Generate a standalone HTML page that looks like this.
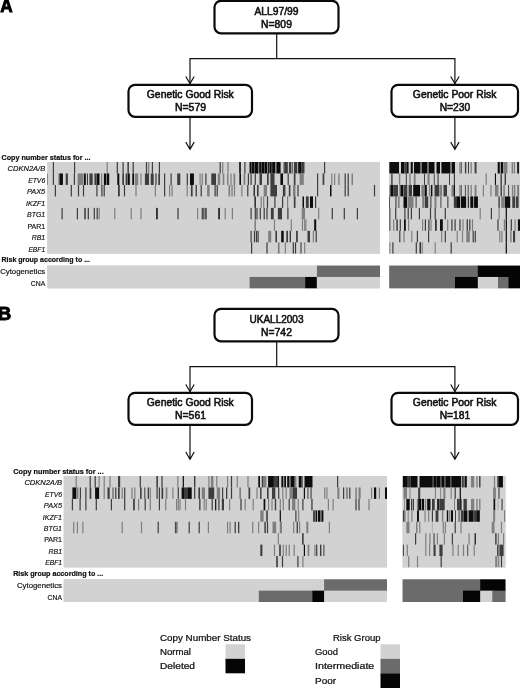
<!DOCTYPE html>
<html lang="en"><head><meta charset="utf-8"><title>Figure</title>
<style>html,body{margin:0;padding:0;background:#fff}svg{display:block}text{font-family:"Liberation Sans",sans-serif;fill:#111}.bx{fill:#fff;stroke:#0a0a0a;stroke-width:2.2}.ln{fill:none;stroke:#111;stroke-width:1.2}.t10{font-size:10.2px;stroke:#111;stroke-width:.55px}.lab{font-size:7.5px;stroke:#111;stroke-width:.18px}.it{font-style:italic}.hd{font-size:7.4px;font-weight:bold;stroke:#111;stroke-width:.22px}.lg{font-size:8.4px;stroke:#111;stroke-width:.22px}.pn{font-size:18px;font-weight:bold;stroke:#000;stroke-width:.9px;fill:#000}</style></head><body>
<svg width="520" height="688" viewBox="0 0 520 688">
<rect width="520" height="688" fill="#fff"/>
<defs><filter id="hb" x="-1%" y="0" width="102%" height="100%"><feGaussianBlur stdDeviation="0.45 0"/></filter></defs>
<path class="ln" d="M276.7 33.5V58.7M190 84V58.7H454.9V84"/>
<path class="ln" d="M185.8 76.5L190 83.6L194.2 76.5"/>
<path class="ln" d="M190 117V149.3M185.8 142.10000000000002L190 149.3L194.2 142.10000000000002"/>
<path class="ln" d="M450.7 76.5L454.9 83.6L459.09999999999997 76.5"/>
<path class="ln" d="M454.9 117V149.3M450.7 142.10000000000002L454.9 149.3L459.09999999999997 142.10000000000002"/>
<rect class="bx" x="214.5" y="0.8" width="124" height="32.5" rx="6.5"/>
<rect class="bx" x="128.5" y="84.8" width="123.5" height="32" rx="6.5"/>
<rect class="bx" x="391.5" y="84.8" width="126.5" height="32" rx="6.5"/>
<text x="276.5" y="14.6" class="t10" text-anchor="middle" textLength="44" lengthAdjust="spacingAndGlyphs">ALL97/99</text>
<text x="276.5" y="28.1" class="t10" text-anchor="middle" textLength="30.8" lengthAdjust="spacingAndGlyphs">N=809</text>
<text x="190.3" y="98.1" class="t10" text-anchor="middle" textLength="87" lengthAdjust="spacingAndGlyphs">Genetic Good Risk</text>
<text x="190.5" y="111.4" class="t10" text-anchor="middle" textLength="31" lengthAdjust="spacingAndGlyphs">N=579</text>
<text x="454.6" y="98.1" class="t10" text-anchor="middle" textLength="83.5" lengthAdjust="spacingAndGlyphs">Genetic Poor Risk</text>
<text x="455" y="111.4" class="t10" text-anchor="middle" textLength="30.6" lengthAdjust="spacingAndGlyphs">N=230</text>
<path class="ln" d="M276.7 341.5V366.7M190 392V366.7H454.9V392"/>
<path class="ln" d="M185.8 384.5L190 391.6L194.2 384.5"/>
<path class="ln" d="M190 425V459.2M185.8 452.0L190 459.2L194.2 452.0"/>
<path class="ln" d="M450.7 384.5L454.9 391.6L459.09999999999997 384.5"/>
<path class="ln" d="M454.9 425V459.2M450.7 452.0L454.9 459.2L459.09999999999997 452.0"/>
<rect class="bx" x="214.5" y="308.8" width="124" height="32.5" rx="6.5"/>
<rect class="bx" x="128.5" y="392.8" width="123.5" height="32" rx="6.5"/>
<rect class="bx" x="391.5" y="392.8" width="126.5" height="32" rx="6.5"/>
<text x="276.5" y="322.6" class="t10" text-anchor="middle" textLength="54" lengthAdjust="spacingAndGlyphs">UKALL2003</text>
<text x="276.5" y="336.1" class="t10" text-anchor="middle" textLength="30.8" lengthAdjust="spacingAndGlyphs">N=742</text>
<text x="190.3" y="406.1" class="t10" text-anchor="middle" textLength="87" lengthAdjust="spacingAndGlyphs">Genetic Good Risk</text>
<text x="190.5" y="419.4" class="t10" text-anchor="middle" textLength="31" lengthAdjust="spacingAndGlyphs">N=561</text>
<text x="454.6" y="406.1" class="t10" text-anchor="middle" textLength="83.5" lengthAdjust="spacingAndGlyphs">Genetic Poor Risk</text>
<text x="455" y="419.4" class="t10" text-anchor="middle" textLength="30.6" lengthAdjust="spacingAndGlyphs">N=181</text>
<text x="0.3" y="12.3" class="pn" textLength="12.4" lengthAdjust="spacingAndGlyphs">A</text>
<text x="-2.0" y="320.3" class="pn" textLength="13.2" lengthAdjust="spacingAndGlyphs">B</text>
<rect x="47.3" y="162" width="332.7" height="91.76" fill="#d2d2d2"/>
<clipPath id="c47_162"><rect x="47.3" y="162" width="332.7" height="91.76"/></clipPath>
<g clip-path="url(#c47_162)"><g filter="url(#hb)">
<rect x="44.3" y="162" width="338.7" height="91.76" fill="#d2d2d2"/>
<rect x="52.8" y="162.00" width="1.2" height="11.47" fill="#3c3c3c"/>
<rect x="74.0" y="162.00" width="1.2" height="11.47" fill="#3c3c3c"/>
<rect x="106.6" y="162.00" width="1.2" height="11.47" fill="#7f7f7f"/>
<rect x="116.7" y="162.00" width="1.2" height="11.47" fill="#3c3c3c"/>
<rect x="122.5" y="162.00" width="1.2" height="11.47" fill="#3c3c3c"/>
<rect x="127.4" y="162.00" width="1.5" height="11.47" fill="#3c3c3c"/>
<rect x="132.6" y="162.00" width="1.2" height="11.47" fill="#3c3c3c"/>
<rect x="145.9" y="162.00" width="1.2" height="11.47" fill="#3c3c3c"/>
<rect x="148.1" y="162.00" width="1.2" height="11.47" fill="#7f7f7f"/>
<rect x="151.8" y="162.00" width="1.2" height="11.47" fill="#3c3c3c"/>
<rect x="158.8" y="162.00" width="1.2" height="11.47" fill="#3c3c3c"/>
<rect x="219.6" y="162.00" width="1.2" height="11.47" fill="#3c3c3c"/>
<rect x="222.1" y="162.00" width="1.2" height="11.47" fill="#7f7f7f"/>
<rect x="227.4" y="162.00" width="1.2" height="11.47" fill="#7f7f7f"/>
<rect x="239.2" y="162.00" width="1.6" height="11.47" fill="#0c0c0c"/>
<rect x="244.3" y="162.00" width="1.2" height="11.47" fill="#3c3c3c"/>
<rect x="249.5" y="162.00" width="1.9" height="11.47" fill="#0c0c0c"/>
<rect x="251.4" y="162.00" width="0.5" height="11.47" fill="#3c3c3c"/>
<rect x="251.9" y="162.00" width="2.5" height="11.47" fill="#0c0c0c"/>
<rect x="254.4" y="162.00" width="0.5" height="11.47" fill="#3c3c3c"/>
<rect x="254.9" y="162.00" width="3.5" height="11.47" fill="#0c0c0c"/>
<rect x="258.4" y="162.00" width="0.8" height="11.47" fill="#7f7f7f"/>
<rect x="259.2" y="162.00" width="1.9" height="11.47" fill="#0c0c0c"/>
<rect x="261.1" y="162.00" width="0.5" height="11.47" fill="#3c3c3c"/>
<rect x="261.6" y="162.00" width="2.5" height="11.47" fill="#0c0c0c"/>
<rect x="264.1" y="162.00" width="0.5" height="11.47" fill="#3c3c3c"/>
<rect x="264.6" y="162.00" width="2.7" height="11.47" fill="#0c0c0c"/>
<rect x="267.3" y="162.00" width="0.8" height="11.47" fill="#7f7f7f"/>
<rect x="268.1" y="162.00" width="1.1" height="11.47" fill="#0c0c0c"/>
<rect x="269.2" y="162.00" width="0.5" height="11.47" fill="#3c3c3c"/>
<rect x="269.7" y="162.00" width="2.0" height="11.47" fill="#0c0c0c"/>
<rect x="271.7" y="162.00" width="0.5" height="11.47" fill="#3c3c3c"/>
<rect x="272.2" y="162.00" width="3.1" height="11.47" fill="#0c0c0c"/>
<rect x="275.3" y="162.00" width="1.2" height="11.47" fill="#7f7f7f"/>
<rect x="276.5" y="162.00" width="4.1" height="11.47" fill="#0c0c0c"/>
<rect x="283.2" y="162.00" width="1.0" height="11.47" fill="#7f7f7f"/>
<rect x="284.2" y="162.00" width="3.6" height="11.47" fill="#3c3c3c"/>
<rect x="288.9" y="162.00" width="2.5" height="11.47" fill="#3c3c3c"/>
<rect x="292.3" y="162.00" width="0.8" height="11.47" fill="#3c3c3c"/>
<rect x="294.0" y="162.00" width="3.3" height="11.47" fill="#3c3c3c"/>
<rect x="298.2" y="162.00" width="3.4" height="11.47" fill="#0c0c0c"/>
<rect x="301.6" y="162.00" width="2.9" height="11.47" fill="#3c3c3c"/>
<rect x="324.0" y="162.00" width="1.2" height="11.47" fill="#3c3c3c"/>
<rect x="47.3" y="173.47" width="0.7" height="11.47" fill="#3c3c3c"/>
<rect x="52.8" y="173.47" width="1.2" height="11.47" fill="#3c3c3c"/>
<rect x="58.4" y="173.47" width="1.1" height="11.47" fill="#7f7f7f"/>
<rect x="59.5" y="173.47" width="3.4" height="11.47" fill="#0c0c0c"/>
<rect x="65.7" y="173.47" width="2.2" height="11.47" fill="#3c3c3c"/>
<rect x="73.8" y="173.47" width="1.2" height="11.47" fill="#3c3c3c"/>
<rect x="77.6" y="173.47" width="5.4" height="11.47" fill="#7f7f7f"/>
<rect x="83.8" y="173.47" width="2.0" height="11.47" fill="#0c0c0c"/>
<rect x="86.9" y="173.47" width="1.1" height="11.47" fill="#3c3c3c"/>
<rect x="89.4" y="173.47" width="3.3" height="11.47" fill="#3c3c3c"/>
<rect x="94.4" y="173.47" width="1.9" height="11.47" fill="#3c3c3c"/>
<rect x="96.6" y="173.47" width="2.9" height="11.47" fill="#0c0c0c"/>
<rect x="101.0" y="173.47" width="1.2" height="11.47" fill="#7f7f7f"/>
<rect x="103.9" y="173.47" width="2.1" height="11.47" fill="#0c0c0c"/>
<rect x="106.0" y="173.47" width="1.0" height="11.47" fill="#7f7f7f"/>
<rect x="107.0" y="173.47" width="2.2" height="11.47" fill="#0c0c0c"/>
<rect x="117.3" y="173.47" width="2.0" height="11.47" fill="#0c0c0c"/>
<rect x="122.3" y="173.47" width="1.7" height="11.47" fill="#3c3c3c"/>
<rect x="125.6" y="173.47" width="1.4" height="11.47" fill="#3c3c3c"/>
<rect x="127.5" y="173.47" width="2.3" height="11.47" fill="#0c0c0c"/>
<rect x="132.3" y="173.47" width="1.7" height="11.47" fill="#0c0c0c"/>
<rect x="134.8" y="173.47" width="3.4" height="11.47" fill="#7f7f7f"/>
<rect x="140.4" y="173.47" width="1.2" height="11.47" fill="#7f7f7f"/>
<rect x="144.9" y="173.47" width="4.1" height="11.47" fill="#3c3c3c"/>
<rect x="150.7" y="173.47" width="3.0" height="11.47" fill="#3c3c3c"/>
<rect x="155.4" y="173.47" width="1.2" height="11.47" fill="#3c3c3c"/>
<rect x="158.3" y="173.47" width="1.7" height="11.47" fill="#3c3c3c"/>
<rect x="164.0" y="173.47" width="1.2" height="11.47" fill="#3c3c3c"/>
<rect x="170.5" y="173.47" width="1.2" height="11.47" fill="#3c3c3c"/>
<rect x="177.2" y="173.47" width="3.1" height="11.47" fill="#3c3c3c"/>
<rect x="186.7" y="173.47" width="1.2" height="11.47" fill="#3c3c3c"/>
<rect x="190.0" y="173.47" width="3.9" height="11.47" fill="#0c0c0c"/>
<rect x="199.5" y="173.47" width="1.2" height="11.47" fill="#7f7f7f"/>
<rect x="201.7" y="173.47" width="1.2" height="11.47" fill="#7f7f7f"/>
<rect x="205.3" y="173.47" width="1.2" height="11.47" fill="#3c3c3c"/>
<rect x="211.3" y="173.47" width="4.7" height="11.47" fill="#3c3c3c"/>
<rect x="217.7" y="173.47" width="2.5" height="11.47" fill="#7f7f7f"/>
<rect x="222.7" y="173.47" width="1.6" height="11.47" fill="#7f7f7f"/>
<rect x="227.0" y="173.47" width="1.5" height="11.47" fill="#7f7f7f"/>
<rect x="230.4" y="173.47" width="1.2" height="11.47" fill="#7f7f7f"/>
<rect x="233.5" y="173.47" width="1.7" height="11.47" fill="#7f7f7f"/>
<rect x="239.4" y="173.47" width="1.6" height="11.47" fill="#0c0c0c"/>
<rect x="243.6" y="173.47" width="1.7" height="11.47" fill="#7f7f7f"/>
<rect x="247.8" y="173.47" width="1.2" height="11.47" fill="#3c3c3c"/>
<rect x="250.5" y="173.47" width="1.2" height="11.47" fill="#3c3c3c"/>
<rect x="254.7" y="173.47" width="1.2" height="11.47" fill="#3c3c3c"/>
<rect x="259.5" y="173.47" width="2.5" height="11.47" fill="#3c3c3c"/>
<rect x="267.0" y="173.47" width="1.7" height="11.47" fill="#3c3c3c"/>
<rect x="270.4" y="173.47" width="4.1" height="11.47" fill="#3c3c3c"/>
<rect x="280.4" y="173.47" width="2.6" height="11.47" fill="#0c0c0c"/>
<rect x="287.6" y="173.47" width="1.2" height="11.47" fill="#3c3c3c"/>
<rect x="293.8" y="173.47" width="1.7" height="11.47" fill="#3c3c3c"/>
<rect x="299.6" y="173.47" width="4.2" height="11.47" fill="#7f7f7f"/>
<rect x="317.0" y="173.47" width="1.2" height="11.47" fill="#3c3c3c"/>
<rect x="322.6" y="173.47" width="1.7" height="11.47" fill="#3c3c3c"/>
<rect x="331.2" y="173.47" width="1.2" height="11.47" fill="#7f7f7f"/>
<rect x="334.0" y="173.47" width="1.2" height="11.47" fill="#7f7f7f"/>
<rect x="338.2" y="173.47" width="1.4" height="11.47" fill="#7f7f7f"/>
<rect x="344.6" y="173.47" width="1.2" height="11.47" fill="#3c3c3c"/>
<rect x="347.6" y="173.47" width="1.2" height="11.47" fill="#3c3c3c"/>
<rect x="351.5" y="173.47" width="1.5" height="11.47" fill="#7f7f7f"/>
<rect x="54.8" y="184.94" width="1.2" height="11.47" fill="#3c3c3c"/>
<rect x="70.7" y="184.94" width="1.2" height="11.47" fill="#3c3c3c"/>
<rect x="77.9" y="184.94" width="1.2" height="11.47" fill="#3c3c3c"/>
<rect x="82.9" y="184.94" width="1.2" height="11.47" fill="#3c3c3c"/>
<rect x="96.3" y="184.94" width="1.2" height="11.47" fill="#3c3c3c"/>
<rect x="101.3" y="184.94" width="1.2" height="11.47" fill="#3c3c3c"/>
<rect x="103.6" y="184.94" width="1.2" height="11.47" fill="#3c3c3c"/>
<rect x="118.0" y="184.94" width="1.8" height="11.47" fill="#3c3c3c"/>
<rect x="123.9" y="184.94" width="1.2" height="11.47" fill="#3c3c3c"/>
<rect x="135.4" y="184.94" width="1.2" height="11.47" fill="#7f7f7f"/>
<rect x="154.8" y="184.94" width="1.2" height="11.47" fill="#7f7f7f"/>
<rect x="164.0" y="184.94" width="1.2" height="11.47" fill="#3c3c3c"/>
<rect x="169.0" y="184.94" width="1.2" height="11.47" fill="#7f7f7f"/>
<rect x="171.5" y="184.94" width="1.2" height="11.47" fill="#7f7f7f"/>
<rect x="186.6" y="184.94" width="1.2" height="11.47" fill="#7f7f7f"/>
<rect x="190.9" y="184.94" width="1.7" height="11.47" fill="#3c3c3c"/>
<rect x="195.6" y="184.94" width="1.3" height="11.47" fill="#3c3c3c"/>
<rect x="200.6" y="184.94" width="1.2" height="11.47" fill="#3c3c3c"/>
<rect x="207.1" y="184.94" width="2.5" height="11.47" fill="#7f7f7f"/>
<rect x="214.5" y="184.94" width="1.2" height="11.47" fill="#3c3c3c"/>
<rect x="216.6" y="184.94" width="1.2" height="11.47" fill="#3c3c3c"/>
<rect x="228.5" y="184.94" width="1.7" height="11.47" fill="#7f7f7f"/>
<rect x="231.4" y="184.94" width="1.3" height="11.47" fill="#7f7f7f"/>
<rect x="233.9" y="184.94" width="1.2" height="11.47" fill="#7f7f7f"/>
<rect x="241.3" y="184.94" width="1.2" height="11.47" fill="#7f7f7f"/>
<rect x="247.2" y="184.94" width="1.2" height="11.47" fill="#3c3c3c"/>
<rect x="253.6" y="184.94" width="1.2" height="11.47" fill="#0c0c0c"/>
<rect x="257.0" y="184.94" width="1.6" height="11.47" fill="#3c3c3c"/>
<rect x="263.7" y="184.94" width="3.3" height="11.47" fill="#7f7f7f"/>
<rect x="270.4" y="184.94" width="6.6" height="11.47" fill="#3c3c3c"/>
<rect x="282.9" y="184.94" width="2.5" height="11.47" fill="#3c3c3c"/>
<rect x="288.8" y="184.94" width="1.6" height="11.47" fill="#3c3c3c"/>
<rect x="293.0" y="184.94" width="2.5" height="11.47" fill="#7f7f7f"/>
<rect x="297.4" y="184.94" width="1.2" height="11.47" fill="#3c3c3c"/>
<rect x="317.0" y="184.94" width="1.2" height="11.47" fill="#3c3c3c"/>
<rect x="330.0" y="184.94" width="1.5" height="11.47" fill="#0c0c0c"/>
<rect x="344.6" y="184.94" width="1.2" height="11.47" fill="#3c3c3c"/>
<rect x="347.6" y="184.94" width="1.2" height="11.47" fill="#3c3c3c"/>
<rect x="373.9" y="184.94" width="1.2" height="11.47" fill="#3c3c3c"/>
<rect x="254.5" y="196.41" width="1.3" height="11.47" fill="#0c0c0c"/>
<rect x="260.6" y="196.41" width="1.2" height="11.47" fill="#7f7f7f"/>
<rect x="263.1" y="196.41" width="1.2" height="11.47" fill="#7f7f7f"/>
<rect x="266.9" y="196.41" width="1.2" height="11.47" fill="#3c3c3c"/>
<rect x="274.3" y="196.41" width="1.2" height="11.47" fill="#3c3c3c"/>
<rect x="282.0" y="196.41" width="1.2" height="11.47" fill="#3c3c3c"/>
<rect x="287.0" y="196.41" width="1.2" height="11.47" fill="#7f7f7f"/>
<rect x="293.8" y="196.41" width="1.7" height="11.47" fill="#3c3c3c"/>
<rect x="302.5" y="196.41" width="1.5" height="11.47" fill="#0c0c0c"/>
<rect x="305.9" y="196.41" width="2.8" height="11.47" fill="#3c3c3c"/>
<rect x="310.0" y="196.41" width="3.0" height="11.47" fill="#0c0c0c"/>
<rect x="315.0" y="196.41" width="1.2" height="11.47" fill="#3c3c3c"/>
<rect x="61.5" y="207.88" width="1.2" height="11.47" fill="#3c3c3c"/>
<rect x="76.8" y="207.88" width="1.2" height="11.47" fill="#3c3c3c"/>
<rect x="84.3" y="207.88" width="1.5" height="11.47" fill="#3c3c3c"/>
<rect x="87.7" y="207.88" width="1.2" height="11.47" fill="#3c3c3c"/>
<rect x="93.7" y="207.88" width="1.2" height="11.47" fill="#3c3c3c"/>
<rect x="96.6" y="207.88" width="1.2" height="11.47" fill="#3c3c3c"/>
<rect x="98.6" y="207.88" width="1.2" height="11.47" fill="#7f7f7f"/>
<rect x="114.2" y="207.88" width="1.2" height="11.47" fill="#7f7f7f"/>
<rect x="130.6" y="207.88" width="1.2" height="11.47" fill="#7f7f7f"/>
<rect x="140.4" y="207.88" width="1.2" height="11.47" fill="#7f7f7f"/>
<rect x="156.2" y="207.88" width="1.5" height="11.47" fill="#0c0c0c"/>
<rect x="177.4" y="207.88" width="1.2" height="11.47" fill="#3c3c3c"/>
<rect x="197.0" y="207.88" width="1.2" height="11.47" fill="#7f7f7f"/>
<rect x="201.7" y="207.88" width="1.2" height="11.47" fill="#3c3c3c"/>
<rect x="203.3" y="207.88" width="1.2" height="11.47" fill="#3c3c3c"/>
<rect x="205.2" y="207.88" width="1.5" height="11.47" fill="#3c3c3c"/>
<rect x="218.3" y="207.88" width="1.5" height="11.47" fill="#0c0c0c"/>
<rect x="224.6" y="207.88" width="1.2" height="11.47" fill="#7f7f7f"/>
<rect x="231.8" y="207.88" width="1.2" height="11.47" fill="#7f7f7f"/>
<rect x="250.5" y="207.88" width="1.2" height="11.47" fill="#3c3c3c"/>
<rect x="254.7" y="207.88" width="1.2" height="11.47" fill="#3c3c3c"/>
<rect x="256.4" y="207.88" width="1.2" height="11.47" fill="#3c3c3c"/>
<rect x="259.7" y="207.88" width="1.2" height="11.47" fill="#3c3c3c"/>
<rect x="263.6" y="207.88" width="1.2" height="11.47" fill="#3c3c3c"/>
<rect x="266.4" y="207.88" width="1.2" height="11.47" fill="#3c3c3c"/>
<rect x="270.9" y="207.88" width="2.8" height="11.47" fill="#3c3c3c"/>
<rect x="277.9" y="207.88" width="4.1" height="11.47" fill="#3c3c3c"/>
<rect x="287.3" y="207.88" width="1.2" height="11.47" fill="#3c3c3c"/>
<rect x="301.7" y="207.88" width="3.3" height="11.47" fill="#7f7f7f"/>
<rect x="318.1" y="207.88" width="1.2" height="11.47" fill="#7f7f7f"/>
<rect x="331.7" y="207.88" width="1.2" height="11.47" fill="#3c3c3c"/>
<rect x="343.7" y="207.88" width="1.2" height="11.47" fill="#3c3c3c"/>
<rect x="356.8" y="207.88" width="1.2" height="11.47" fill="#3c3c3c"/>
<rect x="254.5" y="219.35" width="1.5" height="11.47" fill="#7f7f7f"/>
<rect x="273.9" y="219.35" width="1.2" height="11.47" fill="#7f7f7f"/>
<rect x="290.7" y="219.35" width="1.2" height="11.47" fill="#7f7f7f"/>
<rect x="301.9" y="219.35" width="1.2" height="11.47" fill="#7f7f7f"/>
<rect x="304.1" y="219.35" width="1.2" height="11.47" fill="#7f7f7f"/>
<rect x="305.3" y="219.35" width="1.2" height="11.47" fill="#7f7f7f"/>
<rect x="314.2" y="219.35" width="2.0" height="11.47" fill="#0c0c0c"/>
<rect x="250.5" y="230.82" width="1.2" height="11.47" fill="#3c3c3c"/>
<rect x="253.9" y="230.82" width="1.2" height="11.47" fill="#3c3c3c"/>
<rect x="255.9" y="230.82" width="1.2" height="11.47" fill="#3c3c3c"/>
<rect x="257.5" y="230.82" width="1.2" height="11.47" fill="#3c3c3c"/>
<rect x="268.2" y="230.82" width="3.0" height="11.47" fill="#7f7f7f"/>
<rect x="275.4" y="230.82" width="1.6" height="11.47" fill="#3c3c3c"/>
<rect x="281.2" y="230.82" width="2.5" height="11.47" fill="#0c0c0c"/>
<rect x="286.3" y="230.82" width="1.7" height="11.47" fill="#3c3c3c"/>
<rect x="289.6" y="230.82" width="1.4" height="11.47" fill="#3c3c3c"/>
<rect x="296.3" y="230.82" width="1.3" height="11.47" fill="#0c0c0c"/>
<rect x="307.5" y="230.82" width="2.5" height="11.47" fill="#3c3c3c"/>
<rect x="312.8" y="230.82" width="1.2" height="11.47" fill="#7f7f7f"/>
<rect x="315.6" y="230.82" width="1.2" height="11.47" fill="#3c3c3c"/>
<rect x="251.0" y="242.29" width="1.2" height="11.47" fill="#3c3c3c"/>
<rect x="266.4" y="242.29" width="1.2" height="11.47" fill="#3c3c3c"/>
<rect x="277.9" y="242.29" width="1.7" height="11.47" fill="#7f7f7f"/>
<rect x="284.8" y="242.29" width="1.2" height="11.47" fill="#7f7f7f"/>
<rect x="292.7" y="242.29" width="1.2" height="11.47" fill="#3c3c3c"/>
<rect x="294.9" y="242.29" width="1.2" height="11.47" fill="#3c3c3c"/>
<rect x="300.0" y="242.29" width="2.0" height="11.47" fill="#7f7f7f"/>
<rect x="304.1" y="242.29" width="1.2" height="11.47" fill="#7f7f7f"/>
</g></g>
<rect x="389.2" y="162" width="130.8" height="91.76" fill="#d2d2d2"/>
<clipPath id="c389_162"><rect x="389.2" y="162" width="130.8" height="91.76"/></clipPath>
<g clip-path="url(#c389_162)"><g filter="url(#hb)">
<rect x="386.2" y="162" width="136.8" height="91.76" fill="#d2d2d2"/>
<rect x="389.2" y="162.00" width="9.8" height="11.47" fill="#0c0c0c"/>
<rect x="401.0" y="162.00" width="3.5" height="11.47" fill="#0c0c0c"/>
<rect x="404.5" y="162.00" width="2.0" height="11.47" fill="#3c3c3c"/>
<rect x="406.5" y="162.00" width="2.1" height="11.47" fill="#0c0c0c"/>
<rect x="410.7" y="162.00" width="2.1" height="11.47" fill="#0c0c0c"/>
<rect x="414.0" y="162.00" width="6.5" height="11.47" fill="#0c0c0c"/>
<rect x="421.5" y="162.00" width="6.0" height="11.47" fill="#0c0c0c"/>
<rect x="428.5" y="162.00" width="6.0" height="11.47" fill="#0c0c0c"/>
<rect x="436.5" y="162.00" width="3.5" height="11.47" fill="#0c0c0c"/>
<rect x="441.4" y="162.00" width="9.1" height="11.47" fill="#0c0c0c"/>
<rect x="451.5" y="162.00" width="3.5" height="11.47" fill="#0c0c0c"/>
<rect x="459.3" y="162.00" width="1.0" height="11.47" fill="#7f7f7f"/>
<rect x="460.7" y="162.00" width="1.0" height="11.47" fill="#3c3c3c"/>
<rect x="464.9" y="162.00" width="1.4" height="11.47" fill="#3c3c3c"/>
<rect x="468.0" y="162.00" width="1.0" height="11.47" fill="#3c3c3c"/>
<rect x="470.5" y="162.00" width="1.3" height="11.47" fill="#7f7f7f"/>
<rect x="474.6" y="162.00" width="1.9" height="11.47" fill="#3c3c3c"/>
<rect x="497.7" y="162.00" width="2.1" height="11.47" fill="#0c0c0c"/>
<rect x="500.7" y="162.00" width="2.6" height="11.47" fill="#0c0c0c"/>
<rect x="504.0" y="162.00" width="3.4" height="11.47" fill="#7f7f7f"/>
<rect x="511.6" y="162.00" width="1.4" height="11.47" fill="#7f7f7f"/>
<rect x="513.7" y="162.00" width="1.4" height="11.47" fill="#7f7f7f"/>
<rect x="517.2" y="162.00" width="1.7" height="11.47" fill="#0c0c0c"/>
<rect x="391.2" y="173.47" width="1.4" height="11.47" fill="#3c3c3c"/>
<rect x="398.9" y="173.47" width="1.4" height="11.47" fill="#7f7f7f"/>
<rect x="405.8" y="173.47" width="1.0" height="11.47" fill="#3c3c3c"/>
<rect x="409.3" y="173.47" width="1.4" height="11.47" fill="#7f7f7f"/>
<rect x="413.8" y="173.47" width="1.8" height="11.47" fill="#7f7f7f"/>
<rect x="424.0" y="173.47" width="1.0" height="11.47" fill="#3c3c3c"/>
<rect x="427.5" y="173.47" width="2.1" height="11.47" fill="#7f7f7f"/>
<rect x="433.8" y="173.47" width="0.9" height="11.47" fill="#3c3c3c"/>
<rect x="437.5" y="173.47" width="1.1" height="11.47" fill="#3c3c3c"/>
<rect x="449.0" y="173.47" width="1.0" height="11.47" fill="#3c3c3c"/>
<rect x="453.8" y="173.47" width="1.2" height="11.47" fill="#3c3c3c"/>
<rect x="485.6" y="173.47" width="1.2" height="11.47" fill="#7f7f7f"/>
<rect x="494.9" y="173.47" width="1.1" height="11.47" fill="#0c0c0c"/>
<rect x="500.5" y="173.47" width="1.4" height="11.47" fill="#3c3c3c"/>
<rect x="504.6" y="173.47" width="1.4" height="11.47" fill="#3c3c3c"/>
<rect x="389.2" y="184.94" width="1.2" height="11.47" fill="#7f7f7f"/>
<rect x="390.4" y="184.94" width="2.9" height="11.47" fill="#0c0c0c"/>
<rect x="393.3" y="184.94" width="4.7" height="11.47" fill="#3c3c3c"/>
<rect x="399.3" y="184.94" width="1.2" height="11.47" fill="#7f7f7f"/>
<rect x="400.5" y="184.94" width="3.0" height="11.47" fill="#0c0c0c"/>
<rect x="404.0" y="184.94" width="3.3" height="11.47" fill="#3c3c3c"/>
<rect x="408.6" y="184.94" width="3.4" height="11.47" fill="#3c3c3c"/>
<rect x="413.2" y="184.94" width="6.8" height="11.47" fill="#0c0c0c"/>
<rect x="421.3" y="184.94" width="2.9" height="11.47" fill="#7f7f7f"/>
<rect x="424.6" y="184.94" width="2.2" height="11.47" fill="#0c0c0c"/>
<rect x="428.9" y="184.94" width="1.4" height="11.47" fill="#7f7f7f"/>
<rect x="431.0" y="184.94" width="1.4" height="11.47" fill="#0c0c0c"/>
<rect x="434.5" y="184.94" width="4.8" height="11.47" fill="#3c3c3c"/>
<rect x="439.8" y="184.94" width="2.3" height="11.47" fill="#7f7f7f"/>
<rect x="443.5" y="184.94" width="3.5" height="11.47" fill="#3c3c3c"/>
<rect x="451.5" y="184.94" width="2.2" height="11.47" fill="#7f7f7f"/>
<rect x="453.7" y="184.94" width="1.3" height="11.47" fill="#0c0c0c"/>
<rect x="459.3" y="184.94" width="1.0" height="11.47" fill="#7f7f7f"/>
<rect x="460.7" y="184.94" width="1.0" height="11.47" fill="#3c3c3c"/>
<rect x="464.9" y="184.94" width="0.9" height="11.47" fill="#3c3c3c"/>
<rect x="467.7" y="184.94" width="0.9" height="11.47" fill="#3c3c3c"/>
<rect x="470.5" y="184.94" width="1.3" height="11.47" fill="#7f7f7f"/>
<rect x="474.6" y="184.94" width="1.9" height="11.47" fill="#7f7f7f"/>
<rect x="482.8" y="184.94" width="1.2" height="11.47" fill="#7f7f7f"/>
<rect x="490.4" y="184.94" width="1.2" height="11.47" fill="#7f7f7f"/>
<rect x="494.9" y="184.94" width="3.5" height="11.47" fill="#7f7f7f"/>
<rect x="500.5" y="184.94" width="1.4" height="11.47" fill="#3c3c3c"/>
<rect x="503.3" y="184.94" width="1.6" height="11.47" fill="#7f7f7f"/>
<rect x="508.1" y="184.94" width="1.0" height="11.47" fill="#3c3c3c"/>
<rect x="511.9" y="184.94" width="1.4" height="11.47" fill="#7f7f7f"/>
<rect x="514.0" y="184.94" width="1.4" height="11.47" fill="#7f7f7f"/>
<rect x="517.5" y="184.94" width="1.1" height="11.47" fill="#3c3c3c"/>
<rect x="389.2" y="196.41" width="0.8" height="11.47" fill="#0c0c0c"/>
<rect x="395.4" y="196.41" width="1.1" height="11.47" fill="#3c3c3c"/>
<rect x="397.9" y="196.41" width="1.7" height="11.47" fill="#7f7f7f"/>
<rect x="403.5" y="196.41" width="3.7" height="11.47" fill="#0c0c0c"/>
<rect x="408.0" y="196.41" width="5.5" height="11.47" fill="#7f7f7f"/>
<rect x="415.6" y="196.41" width="1.0" height="11.47" fill="#3c3c3c"/>
<rect x="422.6" y="196.41" width="1.0" height="11.47" fill="#3c3c3c"/>
<rect x="424.7" y="196.41" width="3.5" height="11.47" fill="#3c3c3c"/>
<rect x="430.3" y="196.41" width="1.1" height="11.47" fill="#3c3c3c"/>
<rect x="434.5" y="196.41" width="2.0" height="11.47" fill="#7f7f7f"/>
<rect x="440.0" y="196.41" width="1.7" height="11.47" fill="#7f7f7f"/>
<rect x="447.3" y="196.41" width="1.1" height="11.47" fill="#3c3c3c"/>
<rect x="453.8" y="196.41" width="2.5" height="11.47" fill="#3c3c3c"/>
<rect x="456.3" y="196.41" width="3.9" height="11.47" fill="#0c0c0c"/>
<rect x="461.0" y="196.41" width="5.1" height="11.47" fill="#0c0c0c"/>
<rect x="467.8" y="196.41" width="1.0" height="11.47" fill="#0c0c0c"/>
<rect x="470.3" y="196.41" width="3.0" height="11.47" fill="#0c0c0c"/>
<rect x="474.1" y="196.41" width="3.8" height="11.47" fill="#0c0c0c"/>
<rect x="498.4" y="196.41" width="1.4" height="11.47" fill="#3c3c3c"/>
<rect x="501.2" y="196.41" width="3.4" height="11.47" fill="#7f7f7f"/>
<rect x="504.9" y="196.41" width="5.3" height="11.47" fill="#0c0c0c"/>
<rect x="512.3" y="196.41" width="2.7" height="11.47" fill="#3c3c3c"/>
<rect x="515.8" y="196.41" width="2.8" height="11.47" fill="#3c3c3c"/>
<rect x="389.2" y="207.88" width="1.2" height="11.47" fill="#3c3c3c"/>
<rect x="395.1" y="207.88" width="1.2" height="11.47" fill="#3c3c3c"/>
<rect x="404.3" y="207.88" width="1.2" height="11.47" fill="#3c3c3c"/>
<rect x="407.6" y="207.88" width="1.2" height="11.47" fill="#3c3c3c"/>
<rect x="410.8" y="207.88" width="1.2" height="11.47" fill="#3c3c3c"/>
<rect x="418.8" y="207.88" width="1.2" height="11.47" fill="#3c3c3c"/>
<rect x="429.9" y="207.88" width="1.2" height="11.47" fill="#3c3c3c"/>
<rect x="434.6" y="207.88" width="1.2" height="11.47" fill="#3c3c3c"/>
<rect x="444.7" y="207.88" width="1.2" height="11.47" fill="#3c3c3c"/>
<rect x="479.6" y="207.88" width="1.2" height="11.47" fill="#7f7f7f"/>
<rect x="490.8" y="207.88" width="1.2" height="11.47" fill="#3c3c3c"/>
<rect x="498.5" y="207.88" width="1.2" height="11.47" fill="#7f7f7f"/>
<rect x="505.7" y="207.88" width="1.2" height="11.47" fill="#0c0c0c"/>
<rect x="389.2" y="219.35" width="1.2" height="11.47" fill="#3c3c3c"/>
<rect x="393.1" y="219.35" width="1.2" height="11.47" fill="#7f7f7f"/>
<rect x="396.5" y="219.35" width="1.1" height="11.47" fill="#0c0c0c"/>
<rect x="399.7" y="219.35" width="1.2" height="11.47" fill="#3c3c3c"/>
<rect x="404.0" y="219.35" width="1.8" height="11.47" fill="#0c0c0c"/>
<rect x="408.0" y="219.35" width="1.2" height="11.47" fill="#7f7f7f"/>
<rect x="422.0" y="219.35" width="1.2" height="11.47" fill="#7f7f7f"/>
<rect x="424.8" y="219.35" width="1.2" height="11.47" fill="#3c3c3c"/>
<rect x="428.3" y="219.35" width="1.2" height="11.47" fill="#3c3c3c"/>
<rect x="430.4" y="219.35" width="1.2" height="11.47" fill="#7f7f7f"/>
<rect x="435.2" y="219.35" width="1.4" height="11.47" fill="#0c0c0c"/>
<rect x="440.0" y="219.35" width="2.8" height="11.47" fill="#0c0c0c"/>
<rect x="447.1" y="219.35" width="1.2" height="11.47" fill="#7f7f7f"/>
<rect x="451.3" y="219.35" width="1.2" height="11.47" fill="#3c3c3c"/>
<rect x="454.5" y="219.35" width="1.2" height="11.47" fill="#3c3c3c"/>
<rect x="459.4" y="219.35" width="1.2" height="11.47" fill="#3c3c3c"/>
<rect x="462.4" y="219.35" width="1.2" height="11.47" fill="#7f7f7f"/>
<rect x="466.7" y="219.35" width="1.0" height="11.47" fill="#0c0c0c"/>
<rect x="469.2" y="219.35" width="1.2" height="11.47" fill="#3c3c3c"/>
<rect x="471.9" y="219.35" width="1.2" height="11.47" fill="#7f7f7f"/>
<rect x="497.4" y="219.35" width="1.2" height="11.47" fill="#3c3c3c"/>
<rect x="503.8" y="219.35" width="1.2" height="11.47" fill="#7f7f7f"/>
<rect x="505.7" y="219.35" width="1.2" height="11.47" fill="#0c0c0c"/>
<rect x="510.7" y="219.35" width="1.2" height="11.47" fill="#3c3c3c"/>
<rect x="514.5" y="219.35" width="1.2" height="11.47" fill="#7f7f7f"/>
<rect x="517.9" y="219.35" width="2.1" height="11.47" fill="#0c0c0c"/>
<rect x="399.2" y="230.82" width="1.2" height="11.47" fill="#3c3c3c"/>
<rect x="403.4" y="230.82" width="1.2" height="11.47" fill="#7f7f7f"/>
<rect x="411.2" y="230.82" width="1.2" height="11.47" fill="#7f7f7f"/>
<rect x="416.8" y="230.82" width="1.2" height="11.47" fill="#3c3c3c"/>
<rect x="428.0" y="230.82" width="1.2" height="11.47" fill="#3c3c3c"/>
<rect x="441.1" y="230.82" width="1.2" height="11.47" fill="#7f7f7f"/>
<rect x="444.7" y="230.82" width="1.2" height="11.47" fill="#3c3c3c"/>
<rect x="456.6" y="230.82" width="1.2" height="11.47" fill="#7f7f7f"/>
<rect x="461.9" y="230.82" width="1.2" height="11.47" fill="#7f7f7f"/>
<rect x="466.3" y="230.82" width="3.5" height="11.47" fill="#7f7f7f"/>
<rect x="472.6" y="230.82" width="1.2" height="11.47" fill="#3c3c3c"/>
<rect x="474.7" y="230.82" width="1.2" height="11.47" fill="#3c3c3c"/>
<rect x="499.2" y="230.82" width="1.2" height="11.47" fill="#7f7f7f"/>
<rect x="501.3" y="230.82" width="1.2" height="11.47" fill="#7f7f7f"/>
<rect x="505.7" y="230.82" width="1.2" height="11.47" fill="#0c0c0c"/>
<rect x="510.2" y="230.82" width="1.4" height="11.47" fill="#7f7f7f"/>
<rect x="513.0" y="230.82" width="2.1" height="11.47" fill="#3c3c3c"/>
<rect x="389.2" y="242.29" width="1.2" height="11.47" fill="#7f7f7f"/>
<rect x="392.3" y="242.29" width="1.2" height="11.47" fill="#3c3c3c"/>
<rect x="415.7" y="242.29" width="1.2" height="11.47" fill="#3c3c3c"/>
<rect x="419.6" y="242.29" width="1.2" height="11.47" fill="#0c0c0c"/>
<rect x="421.6" y="242.29" width="1.2" height="11.47" fill="#7f7f7f"/>
<rect x="434.6" y="242.29" width="1.2" height="11.47" fill="#7f7f7f"/>
<rect x="450.6" y="242.29" width="1.2" height="11.47" fill="#3c3c3c"/>
<rect x="505.7" y="242.29" width="1.2" height="11.47" fill="#0c0c0c"/>
</g></g>
<rect x="47.3" y="265.60" width="332.7" height="22.70" fill="#d2d2d2"/>
<rect x="47.3" y="265.60" width="270.3" height="12.05" fill="#d2d2d2"/>
<rect x="317" y="265.60" width="63.0" height="12.05" fill="#6b6b6b"/>
<rect x="47.3" y="276.95" width="202.9" height="11.35" fill="#d2d2d2"/>
<rect x="249.6" y="276.95" width="56.2" height="11.35" fill="#6b6b6b"/>
<rect x="305.2" y="276.95" width="12.2" height="11.35" fill="#050505"/>
<rect x="316.8" y="276.95" width="63.2" height="11.35" fill="#d2d2d2"/>
<rect x="389.2" y="265.60" width="130.8" height="22.70" fill="#d2d2d2"/>
<rect x="389.2" y="265.60" width="89.2" height="12.05" fill="#6b6b6b"/>
<rect x="477.8" y="265.60" width="42.2" height="12.05" fill="#050505"/>
<rect x="389.2" y="276.95" width="66.4" height="11.35" fill="#6b6b6b"/>
<rect x="455" y="276.95" width="23.4" height="11.35" fill="#050505"/>
<rect x="477.8" y="276.95" width="20.8" height="11.35" fill="#d2d2d2"/>
<rect x="498" y="276.95" width="11.1" height="11.35" fill="#6b6b6b"/>
<rect x="508.5" y="276.95" width="11.5" height="11.35" fill="#050505"/>
<text x="1.5" y="159.6" class="hd" textLength="89" lengthAdjust="spacingAndGlyphs">Copy number status for ...</text>
<text x="45.2" y="171.3" class="lab it" text-anchor="end" textLength="37.6" lengthAdjust="spacingAndGlyphs">CDKN2A/B</text>
<text x="45.2" y="182.7" class="lab it" text-anchor="end" textLength="17" lengthAdjust="spacingAndGlyphs">ETV6</text>
<text x="45.2" y="194.2" class="lab it" text-anchor="end" textLength="18.2" lengthAdjust="spacingAndGlyphs">PAX5</text>
<text x="45.2" y="205.7" class="lab it" text-anchor="end" textLength="19.2" lengthAdjust="spacingAndGlyphs">IKZF1</text>
<text x="45.2" y="217.2" class="lab it" text-anchor="end" textLength="18.2" lengthAdjust="spacingAndGlyphs">BTG1</text>
<text x="45.2" y="228.6" class="lab" text-anchor="end" textLength="17.8" lengthAdjust="spacingAndGlyphs">PAR1</text>
<text x="45.2" y="240.1" class="lab it" text-anchor="end" textLength="13.4" lengthAdjust="spacingAndGlyphs">RB1</text>
<text x="45.2" y="251.6" class="lab it" text-anchor="end" textLength="16.8" lengthAdjust="spacingAndGlyphs">EBF1</text>
<text x="1.5" y="262.40000000000003" class="hd" textLength="88.5" lengthAdjust="spacingAndGlyphs">Risk group according to ...</text>
<text x="45.2" y="274.0" class="lab" text-anchor="end" textLength="45" lengthAdjust="spacingAndGlyphs">Cytogenetics</text>
<text x="45.2" y="285.8" class="lab" text-anchor="end" textLength="14.4" lengthAdjust="spacingAndGlyphs">CNA</text>
<rect x="63.7" y="476" width="323.3" height="91.52" fill="#d2d2d2"/>
<clipPath id="c63_476"><rect x="63.7" y="476" width="323.3" height="91.52"/></clipPath>
<g clip-path="url(#c63_476)"><g filter="url(#hb)">
<rect x="60.7" y="476" width="329.3" height="91.52" fill="#d2d2d2"/>
<rect x="75.6" y="476.00" width="1.2" height="11.44" fill="#7f7f7f"/>
<rect x="89.6" y="476.00" width="1.2" height="11.44" fill="#3c3c3c"/>
<rect x="94.6" y="476.00" width="1.2" height="11.44" fill="#3c3c3c"/>
<rect x="98.5" y="476.00" width="1.2" height="11.44" fill="#7f7f7f"/>
<rect x="103.6" y="476.00" width="1.2" height="11.44" fill="#7f7f7f"/>
<rect x="109.4" y="476.00" width="1.2" height="11.44" fill="#7f7f7f"/>
<rect x="118.0" y="476.00" width="2.2" height="11.44" fill="#3c3c3c"/>
<rect x="139.7" y="476.00" width="1.2" height="11.44" fill="#3c3c3c"/>
<rect x="156.5" y="476.00" width="1.2" height="11.44" fill="#0c0c0c"/>
<rect x="161.4" y="476.00" width="1.2" height="11.44" fill="#3c3c3c"/>
<rect x="177.2" y="476.00" width="1.2" height="11.44" fill="#7f7f7f"/>
<rect x="182.7" y="476.00" width="1.2" height="11.44" fill="#0c0c0c"/>
<rect x="194.0" y="476.00" width="1.4" height="11.44" fill="#3c3c3c"/>
<rect x="208.3" y="476.00" width="1.2" height="11.44" fill="#7f7f7f"/>
<rect x="210.9" y="476.00" width="2.5" height="11.44" fill="#7f7f7f"/>
<rect x="216.2" y="476.00" width="1.2" height="11.44" fill="#7f7f7f"/>
<rect x="227.0" y="476.00" width="1.2" height="11.44" fill="#7f7f7f"/>
<rect x="230.9" y="476.00" width="1.2" height="11.44" fill="#3c3c3c"/>
<rect x="236.7" y="476.00" width="1.2" height="11.44" fill="#7f7f7f"/>
<rect x="247.4" y="476.00" width="1.2" height="11.44" fill="#7f7f7f"/>
<rect x="258.3" y="476.00" width="1.7" height="11.44" fill="#0c0c0c"/>
<rect x="261.8" y="476.00" width="1.7" height="11.44" fill="#3c3c3c"/>
<rect x="263.5" y="476.00" width="2.9" height="11.44" fill="#7f7f7f"/>
<rect x="268.1" y="476.00" width="5.8" height="11.44" fill="#0c0c0c"/>
<rect x="273.9" y="476.00" width="3.4" height="11.44" fill="#3c3c3c"/>
<rect x="277.3" y="476.00" width="1.7" height="11.44" fill="#0c0c0c"/>
<rect x="281.4" y="476.00" width="1.7" height="11.44" fill="#0c0c0c"/>
<rect x="283.1" y="476.00" width="1.2" height="11.44" fill="#7f7f7f"/>
<rect x="284.3" y="476.00" width="1.7" height="11.44" fill="#0c0c0c"/>
<rect x="287.2" y="476.00" width="2.3" height="11.44" fill="#0c0c0c"/>
<rect x="289.5" y="476.00" width="1.1" height="11.44" fill="#7f7f7f"/>
<rect x="290.6" y="476.00" width="4.1" height="11.44" fill="#0c0c0c"/>
<rect x="294.7" y="476.00" width="1.7" height="11.44" fill="#7f7f7f"/>
<rect x="298.7" y="476.00" width="2.9" height="11.44" fill="#0c0c0c"/>
<rect x="301.6" y="476.00" width="1.1" height="11.44" fill="#3c3c3c"/>
<rect x="304.5" y="476.00" width="8.0" height="11.44" fill="#0c0c0c"/>
<rect x="337.0" y="476.00" width="1.2" height="11.44" fill="#3c3c3c"/>
<rect x="72.4" y="487.44" width="3.8" height="11.44" fill="#0c0c0c"/>
<rect x="76.2" y="487.44" width="2.2" height="11.44" fill="#7f7f7f"/>
<rect x="79.8" y="487.44" width="1.2" height="11.44" fill="#3c3c3c"/>
<rect x="85.3" y="487.44" width="1.2" height="11.44" fill="#3c3c3c"/>
<rect x="89.6" y="487.44" width="1.7" height="11.44" fill="#3c3c3c"/>
<rect x="95.1" y="487.44" width="4.0" height="11.44" fill="#0c0c0c"/>
<rect x="103.6" y="487.44" width="1.2" height="11.44" fill="#7f7f7f"/>
<rect x="107.5" y="487.44" width="2.2" height="11.44" fill="#3c3c3c"/>
<rect x="112.2" y="487.44" width="1.7" height="11.44" fill="#7f7f7f"/>
<rect x="115.2" y="487.44" width="1.2" height="11.44" fill="#3c3c3c"/>
<rect x="118.0" y="487.44" width="1.7" height="11.44" fill="#3c3c3c"/>
<rect x="121.6" y="487.44" width="1.2" height="11.44" fill="#7f7f7f"/>
<rect x="124.1" y="487.44" width="1.2" height="11.44" fill="#3c3c3c"/>
<rect x="131.4" y="487.44" width="1.2" height="11.44" fill="#7f7f7f"/>
<rect x="134.2" y="487.44" width="1.2" height="11.44" fill="#7f7f7f"/>
<rect x="140.3" y="487.44" width="1.2" height="11.44" fill="#0c0c0c"/>
<rect x="144.3" y="487.44" width="1.0" height="11.44" fill="#3c3c3c"/>
<rect x="147.7" y="487.44" width="1.3" height="11.44" fill="#3c3c3c"/>
<rect x="149.7" y="487.44" width="1.2" height="11.44" fill="#7f7f7f"/>
<rect x="156.5" y="487.44" width="1.2" height="11.44" fill="#3c3c3c"/>
<rect x="158.8" y="487.44" width="1.2" height="11.44" fill="#3c3c3c"/>
<rect x="161.5" y="487.44" width="1.7" height="11.44" fill="#3c3c3c"/>
<rect x="165.7" y="487.44" width="1.7" height="11.44" fill="#7f7f7f"/>
<rect x="172.3" y="487.44" width="1.2" height="11.44" fill="#7f7f7f"/>
<rect x="177.7" y="487.44" width="1.2" height="11.44" fill="#3c3c3c"/>
<rect x="181.6" y="487.44" width="2.4" height="11.44" fill="#0c0c0c"/>
<rect x="184.0" y="487.44" width="4.0" height="11.44" fill="#3c3c3c"/>
<rect x="188.0" y="487.44" width="3.7" height="11.44" fill="#0c0c0c"/>
<rect x="194.1" y="487.44" width="1.2" height="11.44" fill="#3c3c3c"/>
<rect x="198.4" y="487.44" width="1.6" height="11.44" fill="#3c3c3c"/>
<rect x="201.7" y="487.44" width="3.3" height="11.44" fill="#7f7f7f"/>
<rect x="208.4" y="487.44" width="5.8" height="11.44" fill="#3c3c3c"/>
<rect x="216.8" y="487.44" width="3.3" height="11.44" fill="#7f7f7f"/>
<rect x="222.0" y="487.44" width="1.2" height="11.44" fill="#3c3c3c"/>
<rect x="226.0" y="487.44" width="1.3" height="11.44" fill="#3c3c3c"/>
<rect x="230.9" y="487.44" width="1.2" height="11.44" fill="#3c3c3c"/>
<rect x="239.3" y="487.44" width="1.7" height="11.44" fill="#7f7f7f"/>
<rect x="248.5" y="487.44" width="1.7" height="11.44" fill="#3c3c3c"/>
<rect x="256.4" y="487.44" width="1.2" height="11.44" fill="#7f7f7f"/>
<rect x="260.3" y="487.44" width="1.1" height="11.44" fill="#0c0c0c"/>
<rect x="267.0" y="487.44" width="1.6" height="11.44" fill="#3c3c3c"/>
<rect x="272.0" y="487.44" width="3.3" height="11.44" fill="#3c3c3c"/>
<rect x="278.1" y="487.44" width="1.2" height="11.44" fill="#3c3c3c"/>
<rect x="282.2" y="487.44" width="1.2" height="11.44" fill="#7f7f7f"/>
<rect x="285.6" y="487.44" width="1.2" height="11.44" fill="#7f7f7f"/>
<rect x="289.5" y="487.44" width="3.5" height="11.44" fill="#7f7f7f"/>
<rect x="293.0" y="487.44" width="4.0" height="11.44" fill="#3c3c3c"/>
<rect x="303.8" y="487.44" width="1.2" height="11.44" fill="#0c0c0c"/>
<rect x="307.0" y="487.44" width="1.8" height="11.44" fill="#7f7f7f"/>
<rect x="310.5" y="487.44" width="1.1" height="11.44" fill="#3c3c3c"/>
<rect x="324.1" y="487.44" width="1.2" height="11.44" fill="#7f7f7f"/>
<rect x="326.3" y="487.44" width="1.2" height="11.44" fill="#7f7f7f"/>
<rect x="337.3" y="487.44" width="2.1" height="11.44" fill="#7f7f7f"/>
<rect x="343.0" y="487.44" width="1.2" height="11.44" fill="#3c3c3c"/>
<rect x="346.1" y="487.44" width="1.7" height="11.44" fill="#7f7f7f"/>
<rect x="349.2" y="487.44" width="1.2" height="11.44" fill="#3c3c3c"/>
<rect x="355.3" y="487.44" width="1.5" height="11.44" fill="#7f7f7f"/>
<rect x="358.5" y="487.44" width="2.2" height="11.44" fill="#7f7f7f"/>
<rect x="371.0" y="487.44" width="1.2" height="11.44" fill="#7f7f7f"/>
<rect x="374.0" y="487.44" width="2.2" height="11.44" fill="#0c0c0c"/>
<rect x="378.8" y="487.44" width="1.2" height="11.44" fill="#7f7f7f"/>
<rect x="385.0" y="487.44" width="2.0" height="11.44" fill="#0c0c0c"/>
<rect x="71.8" y="498.88" width="1.2" height="11.44" fill="#3c3c3c"/>
<rect x="79.5" y="498.88" width="1.2" height="11.44" fill="#3c3c3c"/>
<rect x="85.3" y="498.88" width="1.2" height="11.44" fill="#3c3c3c"/>
<rect x="95.7" y="498.88" width="1.2" height="11.44" fill="#3c3c3c"/>
<rect x="110.8" y="498.88" width="1.2" height="11.44" fill="#3c3c3c"/>
<rect x="124.1" y="498.88" width="1.2" height="11.44" fill="#3c3c3c"/>
<rect x="133.1" y="498.88" width="1.7" height="11.44" fill="#3c3c3c"/>
<rect x="138.0" y="498.88" width="1.2" height="11.44" fill="#7f7f7f"/>
<rect x="144.6" y="498.88" width="1.2" height="11.44" fill="#3c3c3c"/>
<rect x="149.7" y="498.88" width="1.2" height="11.44" fill="#7f7f7f"/>
<rect x="158.8" y="498.88" width="1.2" height="11.44" fill="#3c3c3c"/>
<rect x="165.1" y="498.88" width="1.2" height="11.44" fill="#7f7f7f"/>
<rect x="176.0" y="498.88" width="1.2" height="11.44" fill="#7f7f7f"/>
<rect x="177.7" y="498.88" width="1.2" height="11.44" fill="#7f7f7f"/>
<rect x="179.4" y="498.88" width="1.2" height="11.44" fill="#7f7f7f"/>
<rect x="184.9" y="498.88" width="1.2" height="11.44" fill="#7f7f7f"/>
<rect x="199.2" y="498.88" width="1.3" height="11.44" fill="#3c3c3c"/>
<rect x="203.6" y="498.88" width="1.2" height="11.44" fill="#7f7f7f"/>
<rect x="205.6" y="498.88" width="1.2" height="11.44" fill="#7f7f7f"/>
<rect x="211.6" y="498.88" width="1.2" height="11.44" fill="#3c3c3c"/>
<rect x="215.1" y="498.88" width="1.2" height="11.44" fill="#0c0c0c"/>
<rect x="218.3" y="498.88" width="1.2" height="11.44" fill="#3c3c3c"/>
<rect x="221.8" y="498.88" width="2.2" height="11.44" fill="#3c3c3c"/>
<rect x="229.0" y="498.88" width="1.2" height="11.44" fill="#7f7f7f"/>
<rect x="240.4" y="498.88" width="1.2" height="11.44" fill="#3c3c3c"/>
<rect x="244.6" y="498.88" width="1.2" height="11.44" fill="#7f7f7f"/>
<rect x="252.6" y="498.88" width="1.2" height="11.44" fill="#7f7f7f"/>
<rect x="263.6" y="498.88" width="1.7" height="11.44" fill="#0c0c0c"/>
<rect x="268.0" y="498.88" width="1.2" height="11.44" fill="#7f7f7f"/>
<rect x="271.4" y="498.88" width="1.2" height="11.44" fill="#7f7f7f"/>
<rect x="274.8" y="498.88" width="1.4" height="11.44" fill="#3c3c3c"/>
<rect x="279.7" y="498.88" width="1.2" height="11.44" fill="#7f7f7f"/>
<rect x="282.7" y="498.88" width="1.2" height="11.44" fill="#7f7f7f"/>
<rect x="288.6" y="498.88" width="1.2" height="11.44" fill="#3c3c3c"/>
<rect x="292.0" y="498.88" width="3.4" height="11.44" fill="#7f7f7f"/>
<rect x="297.6" y="498.88" width="1.2" height="11.44" fill="#7f7f7f"/>
<rect x="302.3" y="498.88" width="1.2" height="11.44" fill="#3c3c3c"/>
<rect x="311.3" y="498.88" width="1.3" height="11.44" fill="#3c3c3c"/>
<rect x="327.8" y="498.88" width="1.2" height="11.44" fill="#7f7f7f"/>
<rect x="332.5" y="498.88" width="1.2" height="11.44" fill="#7f7f7f"/>
<rect x="355.4" y="498.88" width="1.2" height="11.44" fill="#3c3c3c"/>
<rect x="358.4" y="498.88" width="1.2" height="11.44" fill="#3c3c3c"/>
<rect x="368.4" y="498.88" width="1.2" height="11.44" fill="#7f7f7f"/>
<rect x="260.3" y="510.32" width="3.3" height="11.44" fill="#7f7f7f"/>
<rect x="266.4" y="510.32" width="1.2" height="11.44" fill="#0c0c0c"/>
<rect x="279.7" y="510.32" width="1.2" height="11.44" fill="#0c0c0c"/>
<rect x="295.3" y="510.32" width="1.2" height="11.44" fill="#3c3c3c"/>
<rect x="298.1" y="510.32" width="1.2" height="11.44" fill="#7f7f7f"/>
<rect x="313.3" y="510.32" width="1.4" height="11.44" fill="#0c0c0c"/>
<rect x="315.5" y="510.32" width="1.7" height="11.44" fill="#0c0c0c"/>
<rect x="318.0" y="510.32" width="2.5" height="11.44" fill="#0c0c0c"/>
<rect x="321.4" y="510.32" width="2.0" height="11.44" fill="#0c0c0c"/>
<rect x="73.1" y="521.76" width="1.2" height="11.44" fill="#7f7f7f"/>
<rect x="76.8" y="521.76" width="1.2" height="11.44" fill="#7f7f7f"/>
<rect x="82.3" y="521.76" width="1.2" height="11.44" fill="#7f7f7f"/>
<rect x="121.6" y="521.76" width="1.2" height="11.44" fill="#7f7f7f"/>
<rect x="140.9" y="521.76" width="1.2" height="11.44" fill="#7f7f7f"/>
<rect x="157.6" y="521.76" width="1.2" height="11.44" fill="#3c3c3c"/>
<rect x="174.9" y="521.76" width="1.0" height="11.44" fill="#3c3c3c"/>
<rect x="176.4" y="521.76" width="1.0" height="11.44" fill="#3c3c3c"/>
<rect x="188.6" y="521.76" width="1.2" height="11.44" fill="#3c3c3c"/>
<rect x="198.6" y="521.76" width="1.2" height="11.44" fill="#3c3c3c"/>
<rect x="207.8" y="521.76" width="1.2" height="11.44" fill="#7f7f7f"/>
<rect x="227.0" y="521.76" width="1.2" height="11.44" fill="#7f7f7f"/>
<rect x="229.5" y="521.76" width="1.2" height="11.44" fill="#7f7f7f"/>
<rect x="234.6" y="521.76" width="1.2" height="11.44" fill="#3c3c3c"/>
<rect x="238.0" y="521.76" width="1.3" height="11.44" fill="#3c3c3c"/>
<rect x="252.1" y="521.76" width="1.2" height="11.44" fill="#7f7f7f"/>
<rect x="258.0" y="521.76" width="1.2" height="11.44" fill="#7f7f7f"/>
<rect x="264.4" y="521.76" width="1.4" height="11.44" fill="#3c3c3c"/>
<rect x="266.9" y="521.76" width="1.2" height="11.44" fill="#3c3c3c"/>
<rect x="272.5" y="521.76" width="3.7" height="11.44" fill="#7f7f7f"/>
<rect x="279.8" y="521.76" width="2.2" height="11.44" fill="#7f7f7f"/>
<rect x="293.1" y="521.76" width="1.2" height="11.44" fill="#7f7f7f"/>
<rect x="296.6" y="521.76" width="1.3" height="11.44" fill="#3c3c3c"/>
<rect x="299.0" y="521.76" width="1.2" height="11.44" fill="#7f7f7f"/>
<rect x="306.3" y="521.76" width="2.0" height="11.44" fill="#7f7f7f"/>
<rect x="328.8" y="521.76" width="1.2" height="11.44" fill="#7f7f7f"/>
<rect x="277.7" y="533.20" width="1.2" height="11.44" fill="#7f7f7f"/>
<rect x="302.3" y="533.20" width="1.2" height="11.44" fill="#0c0c0c"/>
<rect x="260.3" y="544.64" width="2.1" height="11.44" fill="#3c3c3c"/>
<rect x="273.9" y="544.64" width="1.2" height="11.44" fill="#7f7f7f"/>
<rect x="279.2" y="544.64" width="1.6" height="11.44" fill="#3c3c3c"/>
<rect x="282.7" y="544.64" width="1.2" height="11.44" fill="#7f7f7f"/>
<rect x="285.6" y="544.64" width="1.2" height="11.44" fill="#7f7f7f"/>
<rect x="288.6" y="544.64" width="1.2" height="11.44" fill="#7f7f7f"/>
<rect x="293.6" y="544.64" width="1.2" height="11.44" fill="#7f7f7f"/>
<rect x="303.8" y="544.64" width="1.2" height="11.44" fill="#0c0c0c"/>
<rect x="307.6" y="544.64" width="1.7" height="11.44" fill="#7f7f7f"/>
<rect x="314.3" y="544.64" width="1.2" height="11.44" fill="#7f7f7f"/>
<rect x="316.1" y="544.64" width="1.2" height="11.44" fill="#3c3c3c"/>
<rect x="320.0" y="544.64" width="1.4" height="11.44" fill="#3c3c3c"/>
<rect x="323.4" y="544.64" width="1.0" height="11.44" fill="#3c3c3c"/>
<rect x="276.2" y="556.08" width="1.6" height="11.44" fill="#3c3c3c"/>
<rect x="281.9" y="556.08" width="1.2" height="11.44" fill="#3c3c3c"/>
<rect x="297.3" y="556.08" width="1.2" height="11.44" fill="#3c3c3c"/>
<rect x="302.3" y="556.08" width="1.2" height="11.44" fill="#7f7f7f"/>
</g></g>
<rect x="402.6" y="476" width="102.89999999999998" height="91.52" fill="#d2d2d2"/>
<clipPath id="c402_476"><rect x="402.6" y="476" width="102.89999999999998" height="91.52"/></clipPath>
<g clip-path="url(#c402_476)"><g filter="url(#hb)">
<rect x="399.6" y="476" width="108.89999999999998" height="91.52" fill="#d2d2d2"/>
<rect x="402.6" y="476.00" width="4.4" height="11.44" fill="#0c0c0c"/>
<rect x="407.0" y="476.00" width="1.4" height="11.44" fill="#3c3c3c"/>
<rect x="408.4" y="476.00" width="1.4" height="11.44" fill="#0c0c0c"/>
<rect x="409.8" y="476.00" width="1.1" height="11.44" fill="#3c3c3c"/>
<rect x="410.9" y="476.00" width="6.6" height="11.44" fill="#0c0c0c"/>
<rect x="419.5" y="476.00" width="12.5" height="11.44" fill="#0c0c0c"/>
<rect x="432.0" y="476.00" width="1.5" height="11.44" fill="#3c3c3c"/>
<rect x="433.5" y="476.00" width="2.5" height="11.44" fill="#0c0c0c"/>
<rect x="436.0" y="476.00" width="1.0" height="11.44" fill="#3c3c3c"/>
<rect x="437.0" y="476.00" width="3.5" height="11.44" fill="#0c0c0c"/>
<rect x="440.5" y="476.00" width="1.4" height="11.44" fill="#3c3c3c"/>
<rect x="441.9" y="476.00" width="2.5" height="11.44" fill="#0c0c0c"/>
<rect x="444.4" y="476.00" width="1.4" height="11.44" fill="#3c3c3c"/>
<rect x="445.8" y="476.00" width="4.5" height="11.44" fill="#0c0c0c"/>
<rect x="450.3" y="476.00" width="1.7" height="11.44" fill="#3c3c3c"/>
<rect x="452.0" y="476.00" width="9.0" height="11.44" fill="#0c0c0c"/>
<rect x="461.7" y="476.00" width="2.1" height="11.44" fill="#3c3c3c"/>
<rect x="464.5" y="476.00" width="2.3" height="11.44" fill="#0c0c0c"/>
<rect x="471.0" y="476.00" width="3.2" height="11.44" fill="#7f7f7f"/>
<rect x="476.3" y="476.00" width="1.4" height="11.44" fill="#7f7f7f"/>
<rect x="479.1" y="476.00" width="1.4" height="11.44" fill="#3c3c3c"/>
<rect x="493.9" y="476.00" width="1.2" height="11.44" fill="#7f7f7f"/>
<rect x="497.3" y="476.00" width="1.7" height="11.44" fill="#3c3c3c"/>
<rect x="499.0" y="476.00" width="3.9" height="11.44" fill="#0c0c0c"/>
<rect x="403.5" y="487.44" width="3.5" height="11.44" fill="#7f7f7f"/>
<rect x="409.5" y="487.44" width="1.0" height="11.44" fill="#7f7f7f"/>
<rect x="418.2" y="487.44" width="2.0" height="11.44" fill="#3c3c3c"/>
<rect x="434.9" y="487.44" width="1.1" height="11.44" fill="#7f7f7f"/>
<rect x="440.2" y="487.44" width="1.0" height="11.44" fill="#7f7f7f"/>
<rect x="443.3" y="487.44" width="2.1" height="11.44" fill="#7f7f7f"/>
<rect x="450.6" y="487.44" width="1.1" height="11.44" fill="#7f7f7f"/>
<rect x="454.6" y="487.44" width="1.2" height="11.44" fill="#3c3c3c"/>
<rect x="459.7" y="487.44" width="1.2" height="11.44" fill="#0c0c0c"/>
<rect x="493.1" y="487.44" width="2.8" height="11.44" fill="#7f7f7f"/>
<rect x="498.0" y="487.44" width="2.0" height="11.44" fill="#7f7f7f"/>
<rect x="404.2" y="498.88" width="0.8" height="11.44" fill="#7f7f7f"/>
<rect x="406.3" y="498.88" width="3.4" height="11.44" fill="#0c0c0c"/>
<rect x="411.0" y="498.88" width="1.3" height="11.44" fill="#3c3c3c"/>
<rect x="412.9" y="498.88" width="1.1" height="11.44" fill="#3c3c3c"/>
<rect x="416.9" y="498.88" width="1.3" height="11.44" fill="#7f7f7f"/>
<rect x="418.2" y="498.88" width="3.0" height="11.44" fill="#0c0c0c"/>
<rect x="421.8" y="498.88" width="2.3" height="11.44" fill="#0c0c0c"/>
<rect x="425.0" y="498.88" width="1.2" height="11.44" fill="#7f7f7f"/>
<rect x="427.2" y="498.88" width="3.3" height="11.44" fill="#0c0c0c"/>
<rect x="432.0" y="498.88" width="2.7" height="11.44" fill="#3c3c3c"/>
<rect x="437.2" y="498.88" width="1.7" height="11.44" fill="#0c0c0c"/>
<rect x="439.3" y="498.88" width="5.4" height="11.44" fill="#3c3c3c"/>
<rect x="454.0" y="498.88" width="1.0" height="11.44" fill="#7f7f7f"/>
<rect x="457.0" y="498.88" width="2.7" height="11.44" fill="#3c3c3c"/>
<rect x="459.7" y="498.88" width="1.2" height="11.44" fill="#0c0c0c"/>
<rect x="460.9" y="498.88" width="0.8" height="11.44" fill="#3c3c3c"/>
<rect x="463.5" y="498.88" width="3.3" height="11.44" fill="#3c3c3c"/>
<rect x="471.0" y="498.88" width="3.2" height="11.44" fill="#7f7f7f"/>
<rect x="476.3" y="498.88" width="1.4" height="11.44" fill="#7f7f7f"/>
<rect x="479.1" y="498.88" width="1.4" height="11.44" fill="#7f7f7f"/>
<rect x="493.5" y="498.88" width="1.7" height="11.44" fill="#0c0c0c"/>
<rect x="497.4" y="498.88" width="1.2" height="11.44" fill="#b4b4b4"/>
<rect x="501.5" y="498.88" width="1.1" height="11.44" fill="#3c3c3c"/>
<rect x="402.8" y="510.32" width="1.2" height="11.44" fill="#3c3c3c"/>
<rect x="404.0" y="510.32" width="1.6" height="11.44" fill="#7f7f7f"/>
<rect x="407.7" y="510.32" width="1.0" height="11.44" fill="#7f7f7f"/>
<rect x="411.3" y="510.32" width="1.2" height="11.44" fill="#7f7f7f"/>
<rect x="417.0" y="510.32" width="1.9" height="11.44" fill="#0c0c0c"/>
<rect x="424.5" y="510.32" width="1.2" height="11.44" fill="#7f7f7f"/>
<rect x="428.0" y="510.32" width="1.2" height="11.44" fill="#7f7f7f"/>
<rect x="431.8" y="510.32" width="1.2" height="11.44" fill="#3c3c3c"/>
<rect x="435.6" y="510.32" width="2.8" height="11.44" fill="#3c3c3c"/>
<rect x="441.9" y="510.32" width="1.4" height="11.44" fill="#7f7f7f"/>
<rect x="446.8" y="510.32" width="1.4" height="11.44" fill="#0c0c0c"/>
<rect x="448.9" y="510.32" width="1.4" height="11.44" fill="#7f7f7f"/>
<rect x="451.0" y="510.32" width="2.0" height="11.44" fill="#0c0c0c"/>
<rect x="455.0" y="510.32" width="1.0" height="11.44" fill="#3c3c3c"/>
<rect x="458.2" y="510.32" width="2.1" height="11.44" fill="#7f7f7f"/>
<rect x="461.0" y="510.32" width="2.8" height="11.44" fill="#3c3c3c"/>
<rect x="464.0" y="510.32" width="3.3" height="11.44" fill="#0c0c0c"/>
<rect x="467.3" y="510.32" width="1.7" height="11.44" fill="#7f7f7f"/>
<rect x="469.0" y="510.32" width="4.5" height="11.44" fill="#0c0c0c"/>
<rect x="473.5" y="510.32" width="2.8" height="11.44" fill="#3c3c3c"/>
<rect x="476.3" y="510.32" width="3.5" height="11.44" fill="#0c0c0c"/>
<rect x="493.1" y="510.32" width="2.1" height="11.44" fill="#7f7f7f"/>
<rect x="504.0" y="510.32" width="1.4" height="11.44" fill="#7f7f7f"/>
<rect x="406.3" y="521.76" width="3.2" height="11.44" fill="#7f7f7f"/>
<rect x="416.0" y="521.76" width="1.5" height="11.44" fill="#7f7f7f"/>
<rect x="419.2" y="521.76" width="1.2" height="11.44" fill="#7f7f7f"/>
<rect x="431.8" y="521.76" width="1.2" height="11.44" fill="#b4b4b4"/>
<rect x="442.7" y="521.76" width="1.2" height="11.44" fill="#7f7f7f"/>
<rect x="444.8" y="521.76" width="1.2" height="11.44" fill="#7f7f7f"/>
<rect x="454.6" y="521.76" width="1.2" height="11.44" fill="#3c3c3c"/>
<rect x="460.4" y="521.76" width="1.2" height="11.44" fill="#7f7f7f"/>
<rect x="491.7" y="521.76" width="2.8" height="11.44" fill="#7f7f7f"/>
<rect x="500.9" y="521.76" width="1.2" height="11.44" fill="#7f7f7f"/>
<rect x="415.0" y="533.20" width="1.2" height="11.44" fill="#3c3c3c"/>
<rect x="425.2" y="533.20" width="1.2" height="11.44" fill="#7f7f7f"/>
<rect x="429.4" y="533.20" width="1.2" height="11.44" fill="#7f7f7f"/>
<rect x="433.5" y="533.20" width="1.1" height="11.44" fill="#3c3c3c"/>
<rect x="436.8" y="533.20" width="1.2" height="11.44" fill="#7f7f7f"/>
<rect x="443.8" y="533.20" width="1.2" height="11.44" fill="#7f7f7f"/>
<rect x="451.8" y="533.20" width="1.2" height="11.44" fill="#3c3c3c"/>
<rect x="468.5" y="533.20" width="1.2" height="11.44" fill="#7f7f7f"/>
<rect x="474.6" y="533.20" width="1.2" height="11.44" fill="#0c0c0c"/>
<rect x="495.2" y="533.20" width="1.4" height="11.44" fill="#3c3c3c"/>
<rect x="497.8" y="533.20" width="1.2" height="11.44" fill="#7f7f7f"/>
<rect x="503.0" y="533.20" width="1.2" height="11.44" fill="#7f7f7f"/>
<rect x="402.8" y="544.64" width="1.1" height="11.44" fill="#3c3c3c"/>
<rect x="406.7" y="544.64" width="1.2" height="11.44" fill="#7f7f7f"/>
<rect x="425.2" y="544.64" width="1.2" height="11.44" fill="#7f7f7f"/>
<rect x="429.0" y="544.64" width="1.2" height="11.44" fill="#7f7f7f"/>
<rect x="433.5" y="544.64" width="2.1" height="11.44" fill="#3c3c3c"/>
<rect x="439.4" y="544.64" width="3.2" height="11.44" fill="#3c3c3c"/>
<rect x="452.4" y="544.64" width="1.2" height="11.44" fill="#7f7f7f"/>
<rect x="457.6" y="544.64" width="1.2" height="11.44" fill="#7f7f7f"/>
<rect x="462.9" y="544.64" width="1.2" height="11.44" fill="#7f7f7f"/>
<rect x="467.3" y="544.64" width="0.9" height="11.44" fill="#3c3c3c"/>
<rect x="473.6" y="544.64" width="1.2" height="11.44" fill="#7f7f7f"/>
<rect x="497.3" y="544.64" width="1.1" height="11.44" fill="#0c0c0c"/>
<rect x="499.4" y="544.64" width="4.2" height="11.44" fill="#3c3c3c"/>
<rect x="408.1" y="556.08" width="1.2" height="11.44" fill="#7f7f7f"/>
<rect x="416.9" y="556.08" width="1.2" height="11.44" fill="#7f7f7f"/>
<rect x="440.6" y="556.08" width="1.2" height="11.44" fill="#3c3c3c"/>
<rect x="495.2" y="556.08" width="2.1" height="11.44" fill="#7f7f7f"/>
<rect x="498.1" y="556.08" width="1.2" height="11.44" fill="#7f7f7f"/>
<rect x="500.9" y="556.08" width="1.2" height="11.44" fill="#3c3c3c"/>
</g></g>
<rect x="63.7" y="579.30" width="323.3" height="22.70" fill="#d2d2d2"/>
<rect x="63.7" y="579.30" width="261.0" height="12.05" fill="#d2d2d2"/>
<rect x="324.1" y="579.30" width="62.9" height="12.05" fill="#6b6b6b"/>
<rect x="63.7" y="590.65" width="195.7" height="11.35" fill="#d2d2d2"/>
<rect x="258.8" y="590.65" width="54.2" height="11.35" fill="#6b6b6b"/>
<rect x="312.4" y="590.65" width="12.3" height="11.35" fill="#050505"/>
<rect x="324.1" y="590.65" width="62.9" height="11.35" fill="#d2d2d2"/>
<rect x="402.6" y="579.30" width="102.9" height="22.70" fill="#d2d2d2"/>
<rect x="402.6" y="579.30" width="78.2" height="12.05" fill="#6b6b6b"/>
<rect x="480.2" y="579.30" width="25.3" height="12.05" fill="#050505"/>
<rect x="402.6" y="590.65" width="61.0" height="11.35" fill="#6b6b6b"/>
<rect x="463" y="590.65" width="17.8" height="11.35" fill="#050505"/>
<rect x="480.2" y="590.65" width="12.7" height="11.35" fill="#d2d2d2"/>
<rect x="492.3" y="590.65" width="13.2" height="11.35" fill="#6b6b6b"/>
<text x="13.2" y="473.6" class="hd" textLength="90.5" lengthAdjust="spacingAndGlyphs">Copy number status for ...</text>
<text x="62" y="485.2" class="lab it" text-anchor="end" textLength="37.6" lengthAdjust="spacingAndGlyphs">CDKN2A/B</text>
<text x="62" y="496.7" class="lab it" text-anchor="end" textLength="17" lengthAdjust="spacingAndGlyphs">ETV6</text>
<text x="62" y="508.1" class="lab it" text-anchor="end" textLength="18.2" lengthAdjust="spacingAndGlyphs">PAX5</text>
<text x="62" y="519.6" class="lab it" text-anchor="end" textLength="19.2" lengthAdjust="spacingAndGlyphs">IKZF1</text>
<text x="62" y="531.0" class="lab it" text-anchor="end" textLength="18.2" lengthAdjust="spacingAndGlyphs">BTG1</text>
<text x="62" y="542.4" class="lab" text-anchor="end" textLength="17.8" lengthAdjust="spacingAndGlyphs">PAR1</text>
<text x="62" y="553.9" class="lab it" text-anchor="end" textLength="13.4" lengthAdjust="spacingAndGlyphs">RB1</text>
<text x="62" y="565.3" class="lab it" text-anchor="end" textLength="16.8" lengthAdjust="spacingAndGlyphs">EBF1</text>
<text x="13.2" y="576.0999999999999" class="hd" textLength="90.0" lengthAdjust="spacingAndGlyphs">Risk group according to ...</text>
<text x="62" y="587.6" class="lab" text-anchor="end" textLength="45" lengthAdjust="spacingAndGlyphs">Cytogenetics</text>
<text x="62" y="599.5" class="lab" text-anchor="end" textLength="14.4" lengthAdjust="spacingAndGlyphs">CNA</text>
<text x="160" y="640.8" class="lg" textLength="91" lengthAdjust="spacingAndGlyphs">Copy Number Status</text>
<text x="160" y="655" class="lg" textLength="31" lengthAdjust="spacingAndGlyphs">Normal</text>
<text x="160" y="669.3" class="lg" textLength="35" lengthAdjust="spacingAndGlyphs">Deleted</text>
<rect x="225.5" y="644.3" width="19.5" height="14.5" fill="#d2d2d2"/><rect x="225.5" y="658.8" width="19.5" height="14.5" fill="#050505"/>
<text x="333" y="640.8" class="lg" textLength="47.5" lengthAdjust="spacingAndGlyphs">Risk Group</text>
<text x="315" y="655" class="lg" textLength="23" lengthAdjust="spacingAndGlyphs">Good</text>
<text x="315" y="669.3" class="lg" textLength="59.3" lengthAdjust="spacingAndGlyphs">Intermediate</text>
<text x="315" y="683.7" class="lg" textLength="21" lengthAdjust="spacingAndGlyphs">Poor</text>
<rect x="380.5" y="644.3" width="19.5" height="14.5" fill="#d2d2d2"/><rect x="380.5" y="658.8" width="19.5" height="14.5" fill="#6b6b6b"/><rect x="380.5" y="673.3" width="19.5" height="14.7" fill="#050505"/>
</svg></body></html>
